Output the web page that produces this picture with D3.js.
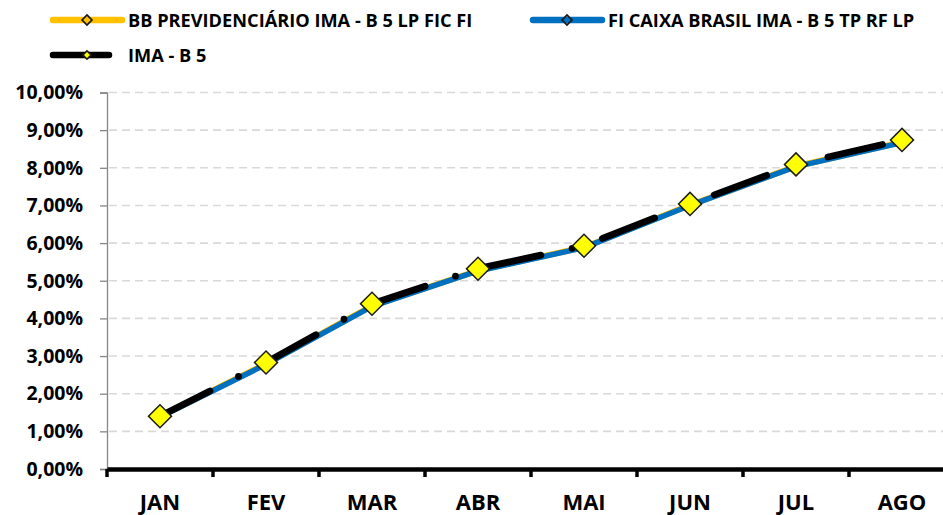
<!DOCTYPE html>
<html>
<head>
<meta charset="utf-8">
<script src="https://cdn.jsdelivr.net/npm/d3@7"></script>
<style>
  body { margin: 0; background: #fff; }
  svg { display: block; font-family: "Open Sans", sans-serif; font-weight: 700; }
</style>
</head>
<body>
<svg id="chart" width="943" height="515"></svg>
<script>
const months = ["JAN", "FEV", "MAR", "ABR", "MAI", "JUN", "JUL", "AGO"];
const bbPrev = [1.39, 2.79, 4.33, 5.27, 5.89, 7.01, 8.04, 8.68];
const fiCaixa = [1.38, 2.78, 4.32, 5.26, 5.88, 7.0, 8.03, 8.67];
const imaB5 = [1.4, 2.83, 4.39, 5.32, 5.93, 7.04, 8.09, 8.74];
const yTicks = [0, 1, 2, 3, 4, 5, 6, 7, 8, 9, 10];

const series = [
  { name: "BB PREVIDENCIÁRIO IMA - B 5 LP FIC FI", values: bbPrev, color: "#FFC000" },
  { name: "FI CAIXA BRASIL IMA - B 5 TP RF LP", values: fiCaixa, color: "#0070C0" },
  { name: "IMA - B 5", values: imaB5, color: "#000000" }
];

const svg = d3.select("#chart");
const plot = { left: 107, right: 955, top: 92.5, bottom: 469 };

const x = d3.scaleBand().domain(months).range([plot.left, plot.right]).padding(0);
const y = d3.scaleLinear().domain([0, 10]).range([plot.bottom, plot.top]);
const cx = (m) => x(m) + x.bandwidth() / 2;

const ptBR = d3.formatLocale({ decimal: ",", thousands: ".", grouping: [3], currency: ["R$", ""] });
const fmt = (v) => ptBR.format(".2f")(v) + "%";

// grid
svg.append("g")
  .selectAll("line")
  .data(yTicks.filter((t) => t > 0))
  .join("line")
  .attr("x1", plot.left + 2)
  .attr("x2", 943)
  .attr("y1", (d) => y(d))
  .attr("y2", (d) => y(d))
  .attr("stroke", "#d9d9d9")
  .attr("stroke-width", 1.6)
  .attr("stroke-dasharray", "8,5");

// y axis
const yAxis = svg.append("g")
  .attr("transform", `translate(${plot.left},0)`)
  .call(d3.axisLeft(y).tickValues(yTicks).tickFormat(fmt).tickSize(7).tickPadding(17));
yAxis.select(".domain").attr("stroke", "#868686").attr("stroke-width", 1.3);
yAxis.selectAll(".tick line").attr("stroke", "#868686").attr("stroke-width", 1.3);
yAxis.selectAll("text")
  .attr("font-family", "Open Sans")
  .attr("font-weight", 700)
  .attr("font-size", 19.5)
  .attr("fill", "#000");

// x axis
const xAxis = svg.append("g")
  .attr("transform", `translate(0,${plot.bottom})`)
  .call(d3.axisBottom(x).tickSize(0).tickPadding(25));
xAxis.select(".domain").attr("stroke", "#000").attr("stroke-width", 4.3);
xAxis.selectAll("text")
  .attr("font-family", "Open Sans")
  .attr("font-weight", 700)
  .attr("font-size", 22)
  .attr("fill", "#000");
xAxis.selectAll(".bound")
  .data(months)
  .join("line")
  .attr("class", "bound")
  .attr("x1", (d) => x(d))
  .attr("x2", (d) => x(d))
  .attr("y1", 0)
  .attr("y2", 8)
  .attr("stroke", "#000")
  .attr("stroke-width", 3.5);

const line = d3.line()
  .x((d, i) => cx(months[i]))
  .y((d) => y(d));

const diamond = (area) => d3.symbol(d3.symbolSquare, area)();

const styles = [
  { width: 6, dash: null, marker: 50, mfill: "none" },
  { width: 5.5, dash: null, marker: 50, mfill: "none" },
  { width: 6.8, dash: "56 32 0 32", marker: 265, mfill: "#FFFF00" }
];

series.forEach((s, k) => {
  svg.append("path")
    .datum(s.values)
    .attr("fill", "none")
    .attr("stroke", s.color)
    .attr("stroke-width", styles[k].width)
    .attr("stroke-linejoin", "round")
    .attr("stroke-linecap", "round")
    .attr("stroke-dasharray", styles[k].dash)
    .attr("d", line);
});

series.forEach((s, k) => {
  svg.append("g")
    .selectAll("path")
    .data(s.values)
    .join("path")
    .attr("d", diamond(styles[k].marker))
    .attr("transform", (d, i) => `translate(${cx(months[i])},${y(d)}) rotate(45)`)
    .attr("fill", styles[k].mfill)
    .attr("stroke", "#1a1a1a")
    .attr("stroke-width", 1.5);
});

// legend
const legendPos = [
  { x: 53, y: 20 },
  { x: 533, y: 20 },
  { x: 53, y: 55 }
];
series.forEach((s, k) => {
  const g = svg.append("g").attr("transform", `translate(${legendPos[k].x},${legendPos[k].y})`);
  g.append("line")
    .attr("x1", 0).attr("x2", 69)
    .attr("stroke", s.color)
    .attr("stroke-width", 6.5)
    .attr("stroke-linecap", "round")
    .attr("stroke-dasharray", styles[k].dash);
  g.append("path")
    .attr("d", diamond(k === 2 ? 34 : 50))
    .attr("transform", "translate(34,0) rotate(45)")
    .attr("fill", k === 2 ? "#FFFF00" : "none")
    .attr("stroke", "#1a1a1a")
    .attr("stroke-width", 1.6);
  g.append("text")
    .attr("x", 75)
    .attr("dy", "0.36em")
    .attr("font-size", 18.2)
    .attr("fill", "#000")
    .text(s.name);
});
</script>
</body>
</html>
